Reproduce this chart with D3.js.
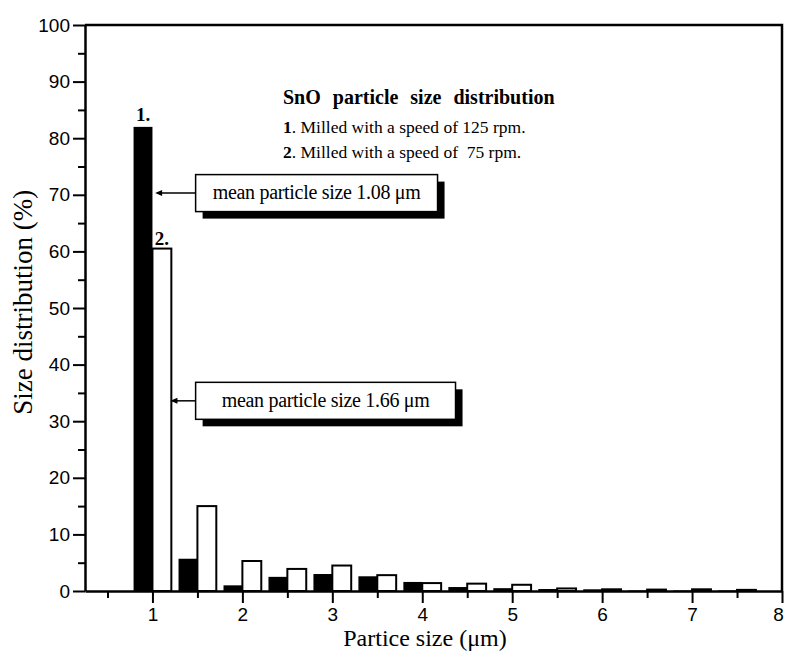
<!DOCTYPE html>
<html>
<head>
<meta charset="utf-8">
<script src="https://cdn.jsdelivr.net/npm/d3@7"></script>
<style>
  body { margin: 0; background: #fff; }
  svg { display: block; }
</style>
</head>
<body>
<div class="chart_box"></div>
<script>
// particle size classes (um) and the two size distributions (%)
var size_classes = [1, 1.5, 2, 2.5, 3, 3.5, 4, 4.5, 5, 5.5, 6, 6.5, 7, 7.5];
var milled_125rpm = [82, 5.7, 1.0, 2.5, 3.0, 2.6, 1.6, 0.7, 0.5, 0.35, 0.3, 0.1, 0.1, 0.1];
var milled_75rpm = [60.5, 15.0, 5.3, 3.9, 4.5, 2.8, 1.4, 1.3, 1.1, 0.45, 0.3, 0.25, 0.3, 0.2];
var x_ticks = [1, 2, 3, 4, 5, 6, 7, 8];
var y_ticks = [0, 10, 20, 30, 40, 50, 60, 70, 80, 90, 100];
var legend_lines = [
  { num: "1", text: ". Milled with a speed of 125 rpm." },
  { num: "2", text: ". Milled with a speed of  75 rpm." }
];
var mean_notes = [
  { text: "mean particle size 1.08 \u03bcm", level: 70.3, from: 1.03, right: 4.17 },
  { text: "mean particle size 1.66 \u03bcm", level: 33.6, from: 1.2, right: 4.37 }
];

var width = 785, height = 657;
var margin_px = { top: 25, right: 3, bottom: 66, left: 85 };
var inner_width = width - margin_px.left - margin_px.right;
var inner_height = height - margin_px.top - margin_px.bottom;

var svg = d3.select(".chart_box").append("svg")
  .attr("width", width)
  .attr("height", height);

var g = svg.append("g")
  .attr("transform", "translate(" + margin_px.left + "," + margin_px.top + ")");

var x_scale = d3.scaleLinear().domain([0.25, 8]).range([0, inner_width]);
var y_scale = d3.scaleLinear().domain([0, 100]).range([inner_height, 0]);
var bar_w = 0.21;

var tick_font = "'Liberation Sans', Arial, sans-serif";
var serif = "'Liberation Serif', 'Times New Roman', serif";

// minor ticks
g.append("g")
  .attr("transform", "translate(0," + inner_height + ")")
  .call(d3.axisBottom(x_scale).tickValues(d3.range(0.5, 8, 1)).tickSize(7).tickFormat(""))
  .call(a => a.select(".domain").remove())
  .selectAll("line").attr("stroke-width", 2);
g.append("g")
  .call(d3.axisLeft(y_scale).tickValues(d3.range(5, 100, 10)).tickSize(7).tickFormat(""))
  .call(a => a.select(".domain").remove())
  .selectAll("line").attr("stroke-width", 2);

// major axes
var x_axis = g.append("g")
  .attr("transform", "translate(0," + inner_height + ")")
  .call(d3.axisBottom(x_scale).tickValues(x_ticks).tickSize(12).tickSizeOuter(0).tickPadding(5));
var y_axis = g.append("g")
  .call(d3.axisLeft(y_scale).tickValues(y_ticks).tickSize(12).tickSizeOuter(0).tickPadding(3));

[x_axis, y_axis].forEach(function (ax) {
  ax.select(".domain").attr("stroke-width", 2.5);
  ax.selectAll(".tick line").attr("stroke-width", 2);
  ax.selectAll("text")
    .attr("font-family", tick_font)
    .attr("font-size", 19)
    .attr("fill", "#000");
});
// keep the last x label inside the picture
x_axis.selectAll(".tick text").filter(d => d === 8).attr("dx", -4);

// frame top and right
g.append("path")
  .attr("d", "M0,0H" + inner_width + "V" + inner_height)
  .attr("fill", "none")
  .attr("stroke", "#000")
  .attr("stroke-width", 2.5);

// bars
g.selectAll(".bar125")
  .data(size_classes)
  .enter()
  .append("rect")
    .attr("class", "bar125")
    .attr("fill", "#000")
    .attr("x", d => x_scale(d - bar_w))
    .attr("y", (d, i) => y_scale(milled_125rpm[i]))
    .attr("width", x_scale(bar_w) - x_scale(0))
    .attr("height", (d, i) => y_scale(0) - y_scale(milled_125rpm[i]));

g.selectAll(".bar75")
  .data(size_classes)
  .enter()
  .append("rect")
    .attr("class", "bar75")
    .attr("fill", "#fff")
    .attr("stroke", "#000")
    .attr("stroke-width", 2)
    .attr("x", d => x_scale(d))
    .attr("y", (d, i) => y_scale(milled_75rpm[i]))
    .attr("width", x_scale(bar_w) - x_scale(0))
    .attr("height", (d, i) => y_scale(0) - y_scale(milled_75rpm[i]));

// labels over the first bars
g.append("text")
  .attr("x", x_scale(1 - bar_w / 2))
  .attr("y", y_scale(milled_125rpm[0]) - 6)
  .attr("text-anchor", "middle")
  .attr("font-family", serif).attr("font-weight", "bold").attr("font-size", 19)
  .text("1.");
g.append("text")
  .attr("x", x_scale(1 + bar_w / 2))
  .attr("y", y_scale(milled_75rpm[0]) - 4)
  .attr("text-anchor", "middle")
  .attr("font-family", serif).attr("font-weight", "bold").attr("font-size", 19)
  .text("2.");

// legend text
var legend = g.append("g")
  .attr("font-family", serif)
  .attr("fill", "#000");
legend.append("text")
  .attr("x", 198).attr("y", 79)
  .attr("font-weight", "bold").attr("font-size", 20)
  .attr("word-spacing", 7)
  .text("SnO particle size distribution");
legend.selectAll(".leg_line")
  .data(legend_lines)
  .enter()
  .append("text")
    .attr("class", "leg_line")
    .attr("x", 198)
    .attr("y", (d, i) => 108 + i * 25)
    .attr("font-size", 17.5)
    .attr("xml:space", "preserve")
    .each(function (d) {
      var t = d3.select(this);
      t.append("tspan").attr("font-weight", "bold").text(d.num);
      t.append("tspan").text(d.text);
    });

// mean size call-outs
var box_left = 1.48, box_h = 37, shadow = 7;
var notes = g.selectAll(".note")
  .data(mean_notes)
  .enter()
  .append("g")
    .attr("class", "note");
notes.append("rect")
  .attr("x", x_scale(box_left) + shadow)
  .attr("y", d => y_scale(d.level) - box_h / 2 + shadow)
  .attr("width", d => x_scale(d.right) - x_scale(box_left))
  .attr("height", box_h)
  .attr("fill", "#000");
notes.append("rect")
  .attr("x", x_scale(box_left))
  .attr("y", d => y_scale(d.level) - box_h / 2)
  .attr("width", d => x_scale(d.right) - x_scale(box_left))
  .attr("height", box_h)
  .attr("fill", "#fff")
  .attr("stroke", "#000")
  .attr("stroke-width", 1.5);
notes.append("text")
  .attr("x", d => (x_scale(box_left) + x_scale(d.right)) / 2)
  .attr("y", d => y_scale(d.level) + 6)
  .attr("text-anchor", "middle")
  .attr("font-family", serif)
  .attr("font-size", 20)
  .attr("letter-spacing", -0.3)
  .text(d => d.text);
notes.append("line")
  .attr("x1", x_scale(box_left))
  .attr("x2", d => x_scale(d.from) + 2)
  .attr("y1", d => y_scale(d.level))
  .attr("y2", d => y_scale(d.level))
  .attr("stroke", "#000")
  .attr("stroke-width", 1.5);
notes.append("path")
  .attr("d", d => {
    var x0 = x_scale(d.from), y0 = y_scale(d.level);
    return "M" + x0 + "," + y0 + "l7,-3v6z";
  })
  .attr("fill", "#000");

// axis titles
svg.append("text")
  .attr("x", margin_px.left + x_scale(4.03))
  .attr("y", 646)
  .attr("text-anchor", "middle")
  .attr("font-family", serif)
  .attr("font-size", 24)
  .text("Partice size (\u03bcm)");
svg.append("text")
  .attr("transform", "translate(32," + (margin_px.top + y_scale(51)) + ") rotate(-90)")
  .attr("text-anchor", "middle")
  .attr("font-family", serif)
  .attr("font-size", 27)
  .text("Size distribution (%)");
</script>
</body>
</html>
